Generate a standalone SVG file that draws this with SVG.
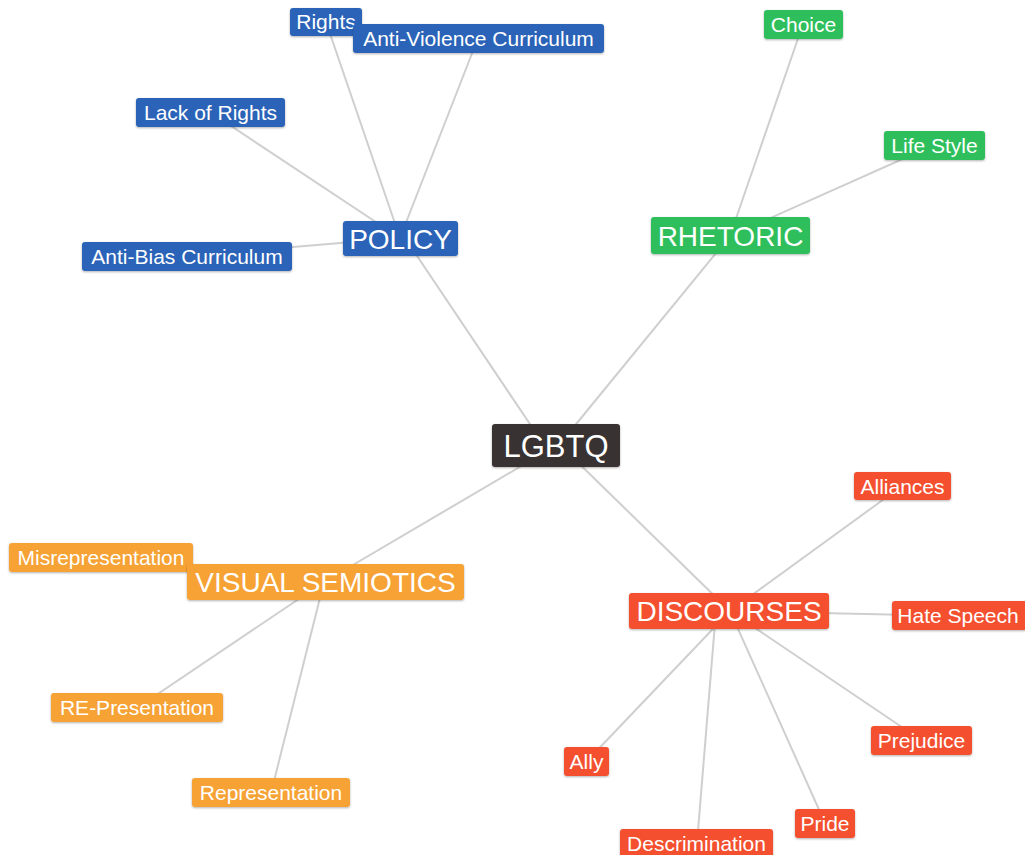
<svg xmlns="http://www.w3.org/2000/svg" width="1025" height="855" viewBox="0 0 1025 855">
<defs>
<filter id="sh" x="-10%" y="-20%" width="120%" height="150%"><feDropShadow dx="0" dy="1" stdDeviation="0.8" flood-color="#000" flood-opacity="0.3"/></filter>
</defs>
<style>
.e{stroke:#cfcfcf;stroke-width:2;fill:none}
rect{filter:url(#sh)}
.b{fill:#2c64b7}.g{fill:#2ebf5c}.o{fill:#f6a234}.r{fill:#f4502f}.k{fill:#373131}
text{font-family:"Liberation Sans",Arial,sans-serif;fill:#fff;text-anchor:middle}
.s{font-size:21px}.m{font-size:28px}.l{font-size:31px}
</style>
<rect width="1025" height="855" fill="#fff" style="filter:none"/>
<g id="connectors">
<line class="e" x1="544" y1="445" x2="405" y2="238"/>
<line class="e" x1="559" y1="445" x2="730" y2="236"/>
<line class="e" x1="557" y1="445" x2="324" y2="582"/>
<line class="e" x1="560" y1="445" x2="730" y2="611"/>
<line class="e" x1="326" y1="22" x2="400" y2="238"/>
<line class="e" x1="478" y1="38" x2="400" y2="238"/>
<line class="e" x1="210" y1="112" x2="400" y2="238"/>
<line class="e" x1="187" y1="256" x2="400" y2="238"/>
<line class="e" x1="803" y1="24" x2="730" y2="236"/>
<line class="e" x1="934" y1="145" x2="730" y2="236"/>
<line class="e" x1="101" y1="557" x2="324" y2="582"/>
<line class="e" x1="137" y1="708" x2="324" y2="582"/>
<line class="e" x1="271" y1="793" x2="324" y2="582"/>
<line class="e" x1="902" y1="486" x2="730" y2="611"/>
<line class="e" x1="958" y1="616" x2="730" y2="611"/>
<line class="e" x1="587" y1="761" x2="730" y2="611"/>
<line class="e" x1="697" y1="843" x2="716" y2="611"/>
<line class="e" x1="825" y1="823" x2="730" y2="611"/>
<line class="e" x1="921" y1="740" x2="730" y2="611"/>
</g>
<g id="n-rights"><rect class="b" x="290" y="8" width="72" height="28" rx="3"/><text class="s" x="326" y="29">Rights</text></g>
<g id="n-antiviolence"><rect class="b" x="353" y="24" width="251" height="29" rx="3"/><text class="s" x="478.5" y="46">Anti-Violence Curriculum</text></g>
<g id="n-lackofrights"><rect class="b" x="136" y="98" width="149" height="29" rx="3"/><text class="s" x="210.5" y="120">Lack of Rights</text></g>
<g id="n-antibias"><rect class="b" x="82" y="242" width="210" height="29" rx="3"/><text class="s" x="187" y="264">Anti-Bias Curriculum</text></g>
<g id="n-policy"><rect class="b" x="343" y="221" width="115" height="35" rx="3"/><text class="m" x="400.5" y="249">POLICY</text></g>
<g id="n-choice"><rect class="g" x="764" y="10" width="79" height="29" rx="3"/><text class="s" x="803.5" y="32">Choice</text></g>
<g id="n-lifestyle"><rect class="g" x="884" y="131" width="101" height="29" rx="3"/><text class="s" x="934.5" y="153">Life Style</text></g>
<g id="n-rhetoric"><rect class="g" x="651" y="217" width="159" height="37" rx="3"/><text class="m" x="730.5" y="246">RHETORIC</text></g>
<g id="n-lgbtq"><rect class="k" x="492" y="424" width="128" height="43" rx="3"/><text class="l" x="556" y="457">LGBTQ</text></g>
<g id="n-misrepresentation"><rect class="o" x="9" y="543" width="184" height="29" rx="3"/><text class="s" x="101" y="565">Misrepresentation</text></g>
<g id="n-visualsemiotics"><rect class="o" x="187" y="564" width="277" height="36" rx="3"/><text class="m" x="325.5" y="592">VISUAL SEMIOTICS</text></g>
<g id="n-representation2"><rect class="o" x="51" y="693" width="172" height="29" rx="3"/><text class="s" x="137" y="715">RE-Presentation</text></g>
<g id="n-representation"><rect class="o" x="192" y="778" width="158" height="29" rx="3"/><text class="s" x="271" y="800">Representation</text></g>
<g id="n-discourses"><rect class="r" x="629" y="593" width="200" height="36" rx="3"/><text class="m" x="729" y="621">DISCOURSES</text></g>
<g id="n-alliances"><rect class="r" x="854" y="472" width="97" height="28" rx="3"/><text class="s" x="902.5" y="494">Alliances</text></g>
<g id="n-hatespeech"><rect class="r" x="892" y="601" width="135" height="29" rx="3"/><text class="s" x="958" y="623">Hate Speech</text></g>
<g id="n-ally"><rect class="r" x="564" y="747" width="45" height="29" rx="3"/><text class="s" x="586.5" y="769">Ally</text></g>
<g id="n-prejudice"><rect class="r" x="871" y="726" width="101" height="29" rx="3"/><text class="s" x="921.5" y="748">Prejudice</text></g>
<g id="n-pride"><rect class="r" x="795" y="809" width="60" height="29" rx="3"/><text class="s" x="825" y="831">Pride</text></g>
<g id="n-descrimination"><rect class="r" x="620" y="829" width="153" height="30" rx="3"/><text class="s" x="696.5" y="851">Descrimination</text></g>
</svg>
